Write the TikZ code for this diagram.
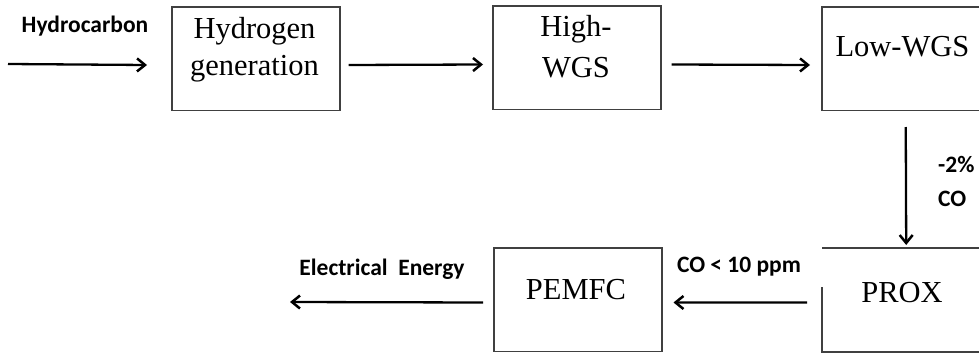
\documentclass[tikz,border=0pt]{standalone}
\usepackage{fontspec}
\setmainfont{Liberation Serif}
\setsansfont{Carlito}
\usetikzlibrary{arrows.meta}
\definecolor{boxgray}{HTML}{404040}
\begin{document}
\begin{tikzpicture}[x=1pt,y=-1pt,
  box/.style={draw=boxgray, line width=1.5pt, minimum width=168pt, minimum height=103.5pt, inner sep=0pt, anchor=north west},
  openbox/.style={minimum width=168pt, minimum height=103.5pt, inner sep=0pt, anchor=north west},
  edge/.style={draw=boxgray, line width=1.5pt},
  boxtext/.style={font=\fontsize{30.5}{36}\selectfont, anchor=base, inner sep=0pt},
  lab/.style={font=\fontsize{23.5}{28}\selectfont\sffamily\bfseries, anchor=base, inner sep=0pt},
  arr/.style={line width=2.3pt, -{Straight Barb[length=8pt, width=13pt, line width=2.5pt]}}
]
\useasboundingbox (0,0) rectangle (979,356);
\clip (0,0) rectangle (979,356);

% boxes
\node[box] (hg) at (171,6) {};
\node[box] (hw) at (492,5) {};
\node[box] (lw) at (821,6) {};
\node[box] (pf) at (493,247) {};
\node[openbox] (px) at (822,248) {};
\draw[edge] (px.north east) -- (px.north west);
\draw[edge] ([yshift=-39pt]px.north west) -- (px.south west) -- (px.south east);

% box texts
\node[boxtext] (hg1) at (254.5,38) {Hydrogen};
\node[boxtext] (hg2) at (254.5,75) {generation};
\node[boxtext] (hw1) at (576,36) {High-};
\node[boxtext] (hw2) at (576,77) {WGS};
\node[boxtext] (lw1) at (902.5,56) {Low-WGS};
\node[boxtext] (pf1) at (576,299) {PEMFC};
\node[boxtext] (px1) at (902,302) {PROX};

% labels
\node[lab] (l1) at (85,32) {Hydrocarbon};
\node[lab] (l2) at (382,275) {Electrical\ \ Energy};
\node[lab] (l3) at (739,272) {CO < 10 ppm};
\node[lab, anchor=base west] (l4) at (938,172) {-2\%};
\node[lab, anchor=base west] (l5) at (938,206) {CO};

% connectors
\coordinate (in) at (8,64);
\coordinate (out) at (290,302);
\draw[arr] (in) -- ([shift={(-24,6.5)}]hg.west);
\draw[arr] ([shift={(8,6.5)}]hg.east) -- ([shift={(-9,7)}]hw.west);
\draw[arr] ([shift={(10,7)}]hw.east) -- ([shift={(-11,6.5)}]lw.west);
\draw[arr] ([yshift=-16pt]lw.south) -- ([yshift=3pt]px.north);
\draw[arr] ([shift={(-15,2.5)}]px.west) -- ([shift={(11,3)}]pf.east);
\draw[arr] ([shift={(-10,3)}]pf.west) -- (out);
\end{tikzpicture}
\end{document}
